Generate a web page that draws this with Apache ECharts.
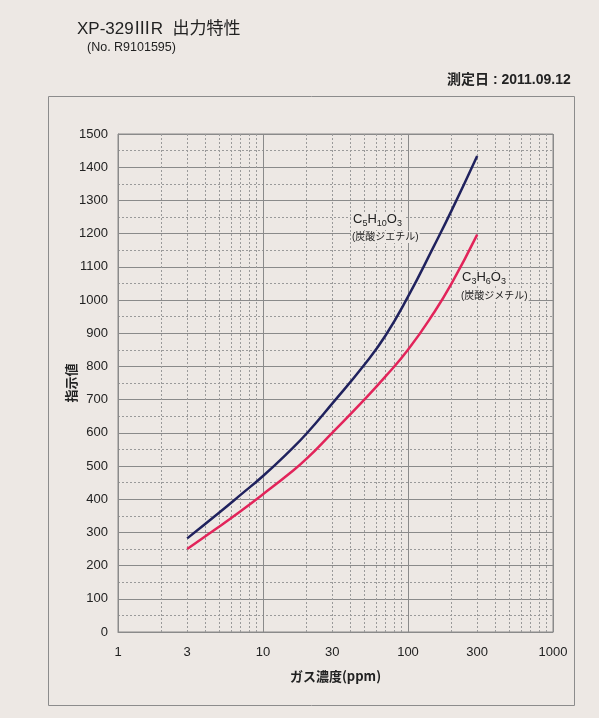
<!DOCTYPE html>
<html>
<head>
<meta charset="utf-8">
<script src="https://cdn.jsdelivr.net/npm/echarts@6/dist/echarts.min.js"></script>
<style>
  html, body { margin: 0; padding: 0; background: #ede8e4; }
  #chart { width: 599px; height: 718px; }
</style>
</head>
<body>
<div id="chart"></div>
<script>
// Gas concentration (ppm) and indicated values for two carbonates
const concentration = [3, 5, 7, 10, 15, 20, 30, 50, 70, 100, 150, 200, 300];
const diethylCarbonate = [282, 360, 413, 470, 542, 598, 688, 805, 893, 1010, 1160, 1270, 1434];
const dimethylCarbonate = [250, 318, 364, 415, 475, 522, 600, 700, 770, 850, 960, 1050, 1197];

// Axis tick values
const xTickLabels = [1, 3, 10, 30, 100, 300, 1000];
const xMinorLines = [2, 3, 4, 5, 6, 7, 8, 9, 20, 30, 40, 50, 60, 70, 80, 90, 200, 300, 400, 500, 600, 700, 800, 900];

const paper = '#ede8e4';
const font = "'Liberation Sans', 'Noto Sans CJK JP', sans-serif";
const cjk = "'Noto Sans CJK JP', sans-serif";
const chart = echarts.init(document.getElementById('chart'));

const pairs = (ys) => concentration.map((x, i) => [x, ys[i]]);

chart.setOption({
  backgroundColor: paper,
  textStyle: { fontFamily: font },
  animation: false,
  grid: {
    left: 118, right: 46, top: 134, bottom: 86,
    show: true, borderColor: '#8a8a8a', borderWidth: 1
  },
  xAxis: {
    type: 'log', logBase: 10, min: 1, max: 1000,
    axisLine: { show: true, lineStyle: { color: '#8a8a8a', width: 1 } },
    axisTick: { show: false },
    axisLabel: { customValues: xTickLabels, color: '#222', fontSize: 13, margin: 14, fontFamily: font, formatter: v => String(v) },
    splitLine: { show: true, lineStyle: { color: '#8a8a8a', width: 1 } },
    name: 'ガス濃度(ppm)', nameLocation: 'middle', nameGap: 38,
    nameTextStyle: { fontSize: 13, fontWeight: 'bold', color: '#222', fontFamily: cjk }
  },
  yAxis: {
    type: 'value', min: 0, max: 1500, interval: 100,
    axisLine: { show: true, lineStyle: { color: '#8a8a8a', width: 1 } },
    axisTick: { show: false },
    axisLabel: { color: '#222', fontSize: 13, margin: 10, fontFamily: font, formatter: v => String(v) },
    splitLine: { show: true, lineStyle: { color: '#8a8a8a', width: 1 } },
    minorTick: { show: false, splitNumber: 2 },
    minorSplitLine: { show: true, lineStyle: { color: '#9a9a9a', width: 1, type: [2, 2] } },
    name: '指示値', nameLocation: 'middle', nameRotate: 90, nameGap: 40, nameMoveOverlap: false,
    nameTextStyle: { fontSize: 13, fontWeight: 'bold', color: '#222', fontFamily: cjk }
  },
  series: [
    {
      name: 'minor', type: 'line', data: [], silent: true,
      markLine: {
        silent: true, symbol: 'none', label: { show: false },
        lineStyle: { color: '#9a9a9a', width: 1, type: [2, 2] },
        data: xMinorLines.map(v => ({ xAxis: v }))
      }
    },
    {
      name: 'C5H10O3', type: 'line', data: pairs(diethylCarbonate),
      smooth: 0.5, showSymbol: false, z: 5,
      lineStyle: { color: '#20225e', width: 2.5 }
    },
    {
      name: 'C3H6O3', type: 'line', data: pairs(dimethylCarbonate),
      smooth: 0.5, showSymbol: false, z: 5,
      lineStyle: { color: '#e2245a', width: 2.5 }
    }
  ],
  graphic: [
    { type: 'rect', shape: { x: 48.5, y: 96.5, width: 526, height: 609 }, style: { fill: 'none', stroke: '#8c8c8c', lineWidth: 1 }, z: -1 },
    { type: 'text', left: 77, top: 21, style: { text: 'XP-329ⅢR  出力特性', fontSize: 17, fill: '#222', fontFamily: font } },
    { type: 'text', left: 87, top: 41, style: { text: '(No. R9101595)', fontSize: 12.5, fill: '#222', fontFamily: font } },
    { type: 'text', left: 447, top: 73, style: { text: '測定日 : 2011.09.12', fontSize: 14, fontWeight: 'bold', fill: '#222', fontFamily: font } },
    {
      type: 'text', left: 351, top: 213, z: 10,
      style: {
        text: '{n|C}{s|5}{n|H}{s|10}{n|O}{s|3}',
        backgroundColor: paper, padding: [0, 2, 0, 2],
        rich: {
          n: { fontSize: 13, lineHeight: 15, verticalAlign: 'top', fill: '#222', fontFamily: font },
          s: { fontSize: 9, lineHeight: 15, verticalAlign: 'bottom', fill: '#222', fontFamily: font }
        }
      }
    },
    { type: 'text', left: 351, top: 231, z: 10, style: { text: '(炭酸ジエチル)', fontSize: 10, fill: '#222', backgroundColor: paper, padding: [1, 1], fontFamily: font } },
    {
      type: 'text', left: 460, top: 271, z: 10,
      style: {
        text: '{n|C}{s|3}{n|H}{s|6}{n|O}{s|3}',
        backgroundColor: paper, padding: [0, 2, 0, 2],
        rich: {
          n: { fontSize: 13, lineHeight: 15, verticalAlign: 'top', fill: '#222', fontFamily: font },
          s: { fontSize: 9, lineHeight: 15, verticalAlign: 'bottom', fill: '#222', fontFamily: font }
        }
      }
    },
    { type: 'text', left: 460, top: 290, z: 10, style: { text: '(炭酸ジメチル)', fontSize: 10, fill: '#222', backgroundColor: paper, padding: [1, 1], fontFamily: font } }
  ]
});
</script>
</body>
</html>
